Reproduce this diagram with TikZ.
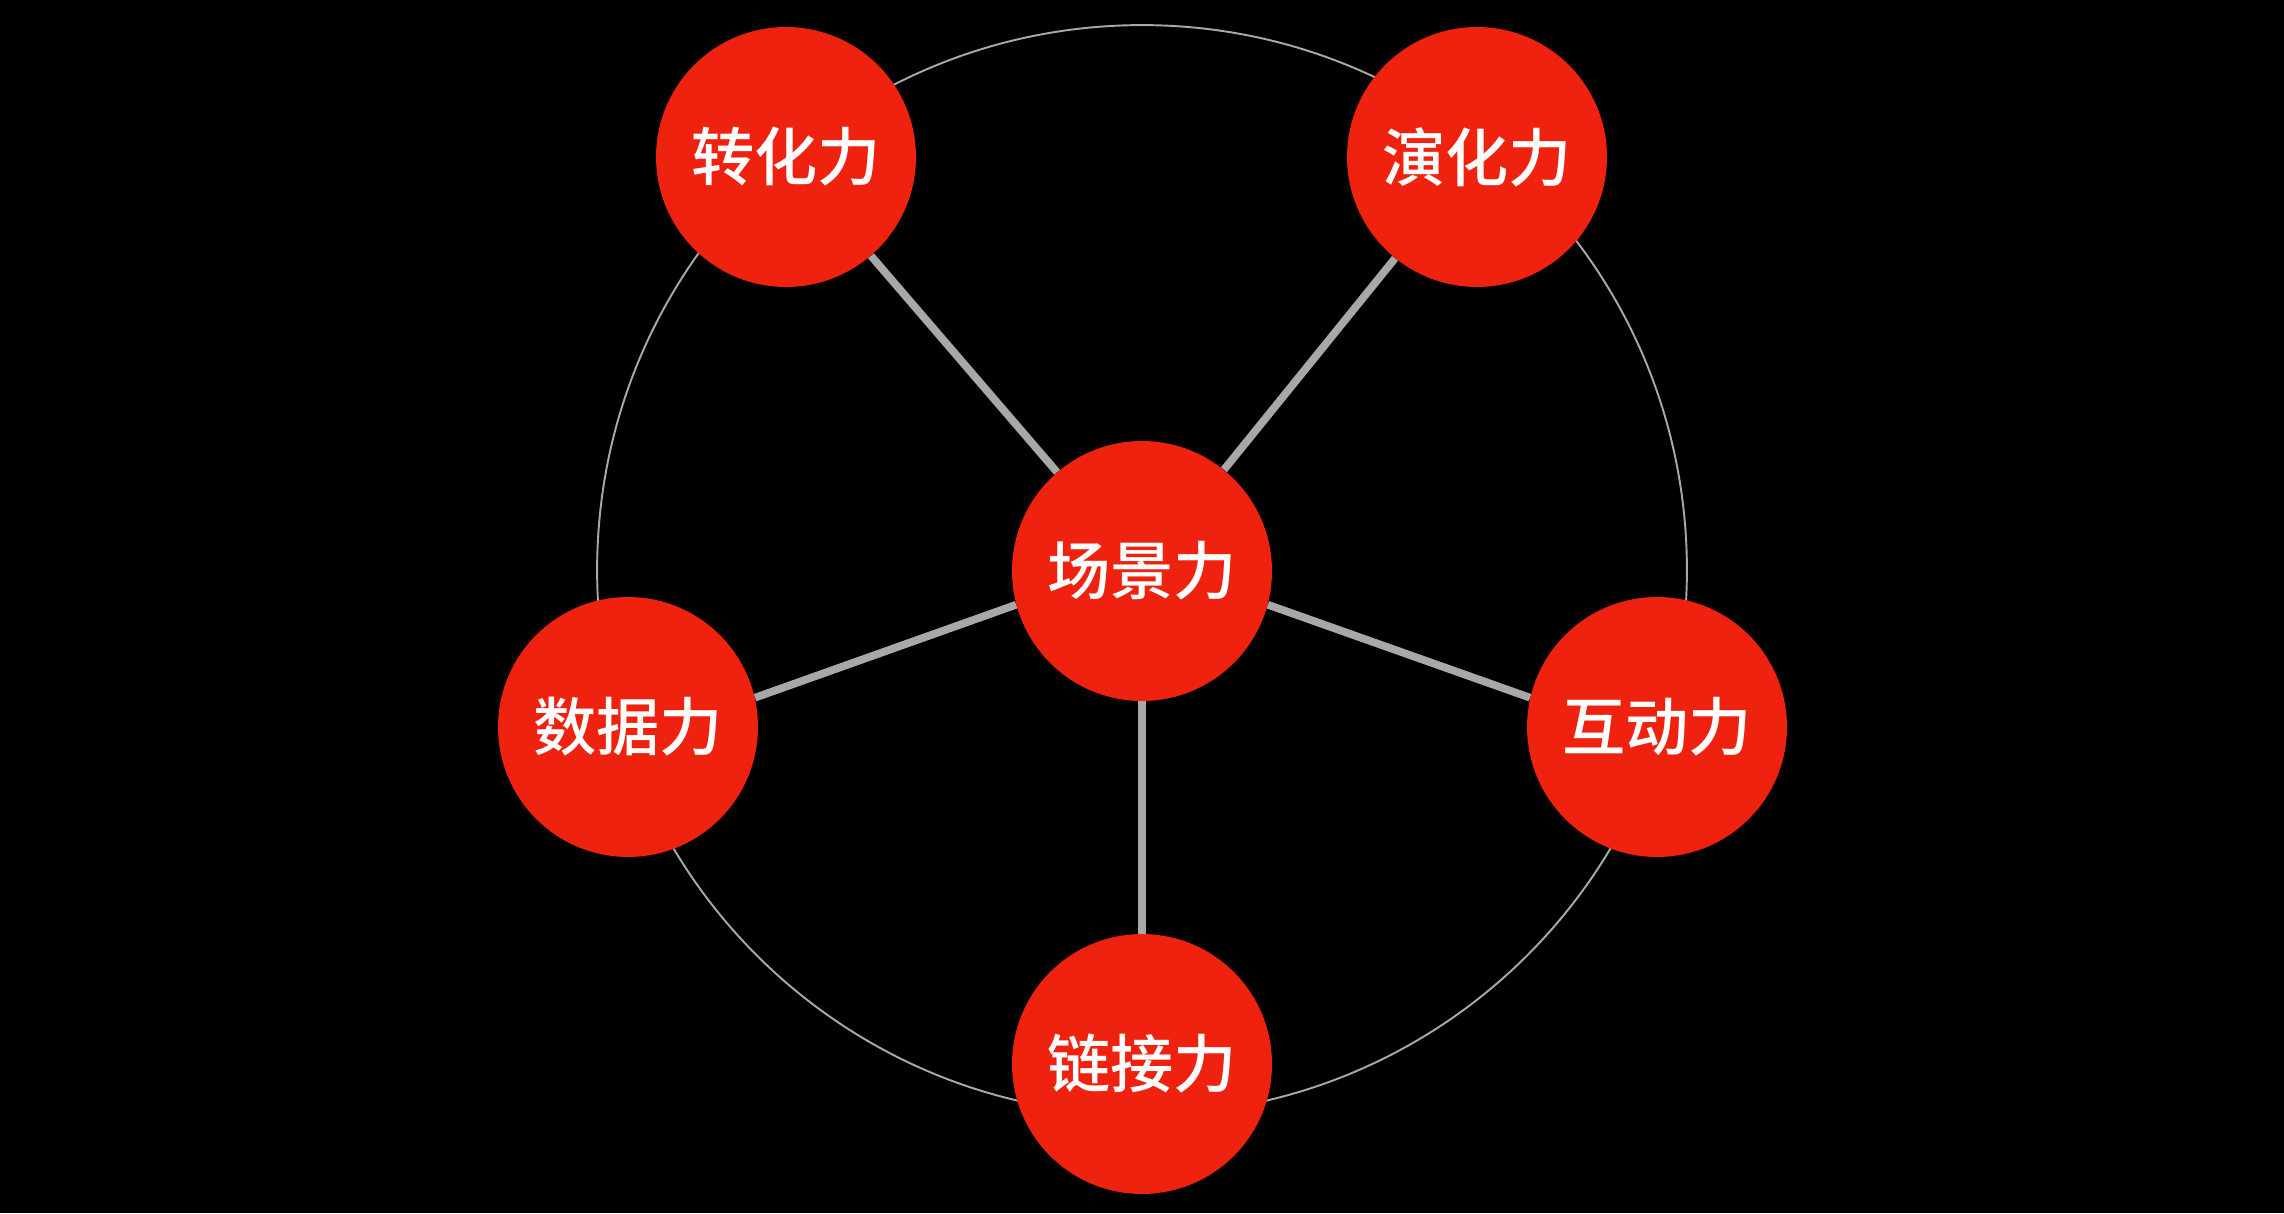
\documentclass[tikz,border=0pt]{standalone}
\usepackage{fontspec}
\usepackage{tikz}
\newfontfamily\cjk{Noto Sans CJK SC}[UprightFont=* Medium]
\definecolor{PowerRed}{HTML}{EE220E}
\definecolor{RingGray}{HTML}{A8A8A8}

\begin{document}
\begin{tikzpicture}[
    x=0.02cm, y=-0.02cm,
    every node/.style={font=\cjk\fontsize{36}{40}\selectfont, text=white},
    power/.style={circle, fill=PowerRed, inner sep=0pt, minimum size=5.2cm},
    spoke/.style={draw=RingGray, line width=4.4pt},
    ring/.style={draw=RingGray, line width=1.1pt}
]
\fill[black] (0,0) rectangle (2284,1213);
\useasboundingbox (0,0) rectangle (2284,1213);
\draw[ring] (1142,570) circle[radius=10.9cm];

\node[power] (scene) at (1142,571) {场景力};
\node[power] (trans) at (786,157) {转化力};
\node[power] (evol) at (1477,157) {演化力};
\node[power] (inter) at (1657,727) {互动力};
\node[power] (link) at (1142,1064) {链接力};
\node[power] (data) at (628,727) {数据力};

\draw[spoke] (scene) -- (trans);
\draw[spoke] (scene) -- (evol);
\draw[spoke] (scene.345) -- (inter.167);
\draw[spoke] (scene) -- (link);
\draw[spoke] (scene.195) -- (data.13);
\end{tikzpicture}
\end{document}
